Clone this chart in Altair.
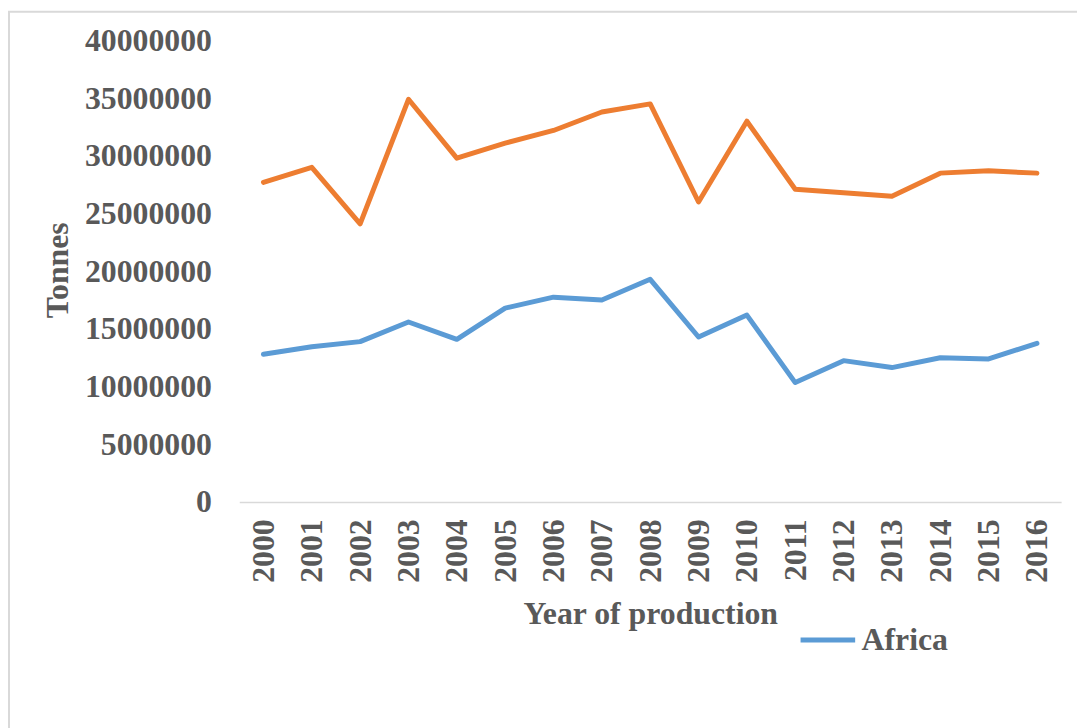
import altair as alt
import pandas as pd

years = [str(y) for y in range(2000, 2017)]
africa = [12800000, 13450000, 13900000, 15600000, 14100000, 16800000, 17750000,
          17500000, 19300000, 14300000, 16200000, 10350000, 12250000, 11650000,
          12500000, 12400000, 13750000]
other = [27700000, 29000000, 24100000, 34900000, 29800000, 31100000, 32200000,
         33800000, 34500000, 26000000, 33000000, 27100000, 26800000, 26500000,
         28500000, 28700000, 28500000]
series_names = ["Africa", "Other"]
series_colors = ["#5B9BD5", "#ED7D31"]
y_ticks = list(range(0, 40000001, 5000000))

rows = []
for name, vals in zip(series_names, [africa, other]):
    for yr, v in zip(years, vals):
        rows.append({"year": yr, "value": v, "series": name})
df = pd.DataFrame(rows)

FONT = "Liberation Serif"
GRAY = "#595959"
FS = 32

lines = alt.Chart(df).mark_line(strokeWidth=5, strokeJoin="round", strokeCap="round").encode(
    x=alt.X("year:O", scale=alt.Scale(type="point", padding=0.5),
            axis=alt.Axis(title="Year of production", labelAngle=-90, ticks=False,
                          labelPadding=17, labelFont=FONT, labelFontSize=FS,
                          labelFontWeight="bold", labelColor=GRAY,
                          domainColor="#D9D9D9", domainWidth=1.5,
                          titleFont=FONT, titleFontSize=FS, titleFontWeight="bold",
                          titleColor=GRAY, titleBaseline="alphabetic", titleY=122)),
    y=alt.Y("value:Q", scale=alt.Scale(domain=[0, 40000000], nice=False),
            axis=alt.Axis(title="Tonnes", values=y_ticks, format="d", grid=False,
                          domain=False, ticks=False, labelPadding=28,
                          labelFont=FONT, labelFontSize=FS, labelFontWeight="bold",
                          labelColor=GRAY, titleFont=FONT, titleFontSize=FS,
                          titleFontWeight="bold", titleColor=GRAY,
                          titleX=-166, titleY=231)),
    color=alt.Color("series:N",
                    scale=alt.Scale(domain=series_names, range=series_colors),
                    legend=alt.Legend(title=None, values=["Africa"], orient="none",
                                      legendX=563, legendY=574,
                                      symbolType="stroke", symbolSize=3025,
                                      symbolStrokeWidth=5, labelOffset=4,
                                      labelFont=FONT, labelFontSize=FS,
                                      labelFontWeight="bold", labelColor=GRAY,
                                      padding=0)),
)

border = alt.Chart(pd.DataFrame({"k": [0]})).mark_rect(
    fill="transparent", stroke="#D9D9D9", strokeWidth=2
).encode(
    x=alt.value(-232), x2=alt.value(860),
    y=alt.value(-29), y2=alt.value(700),
)

chart = alt.layer(border, lines).properties(
    width=828, height=465,
    autosize=alt.AutoSizeParams(type="none"),
    padding={"left": 233, "top": 30, "right": 16, "bottom": 225},
).configure_view(stroke=None)

chart.save("out.html", embed_options={"renderer": "svg", "actions": False})
